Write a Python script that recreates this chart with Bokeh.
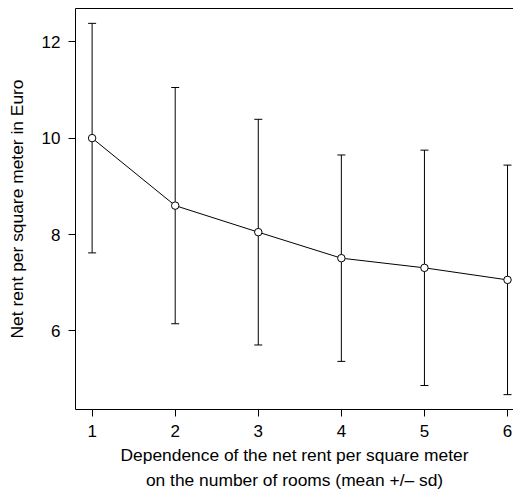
from bokeh.plotting import figure
from bokeh.models import (ColumnDataSource, Whisker, TeeHead, LinearAxis, FixedTicker,
                          Range1d, Title)
from bokeh.embed import file_html
from bokeh.resources import INLINE

rooms = [1, 2, 3, 4, 5, 6]
mean_rent = [10.00, 8.60, 8.05, 7.51, 7.31, 7.06]
sd_rent = [2.38, 2.45, 2.34, 2.14, 2.44, 2.38]
x_ticks = [1, 2, 3, 4, 5, 6]
y_ticks = [6, 8, 10, 12]
y_title = "Net rent per square meter in Euro"
x_title_1 = "Dependence of the net rent per square meter"
x_title_2 = "on the number of rooms (mean +/\u2013 sd)"

lower = [m - s for m, s in zip(mean_rent, sd_rent)]
upper = [m + s for m, s in zip(mean_rent, sd_rent)]

ylo, yhi = min(lower), max(upper)
pad = 0.04 * (yhi - ylo)
y0, y1 = ylo - pad, yhi + pad

FONT = "Liberation Sans"
FS = "17px"
FS_T = "17.4px"

p = figure(width=513, height=489, output_backend="svg", toolbar_location=None,
           x_range=Range1d(0.8, 6.072), y_range=Range1d(y0, y1),
           x_axis_type=None, y_axis_type=None)
p.min_border_left = 75
p.min_border_right = 0
p.min_border_top = 8
p.min_border_bottom = 79
p.outline_line_color = None
p.background_fill_color = "white"
p.border_fill_color = "white"
p.xgrid.visible = False
p.ygrid.visible = False

def style_axis(ax):
    ax.axis_line_color = "black"
    ax.axis_line_width = 1
    ax.major_tick_line_color = "black"
    ax.major_tick_out = 7
    ax.major_tick_in = 0
    ax.minor_tick_line_color = None
    ax.major_label_text_font = FONT
    ax.major_label_text_font_size = FS
    ax.major_label_text_color = "black"

xax = LinearAxis(ticker=FixedTicker(ticks=x_ticks))
style_axis(xax)
xax.major_label_standoff = 8
p.add_layout(xax, "below")

yax = LinearAxis(ticker=FixedTicker(ticks=y_ticks))
style_axis(yax)
yax.major_label_standoff = 8
yax.major_label_orientation = "horizontal"
yax.axis_label = y_title
yax.axis_label_text_font = FONT
yax.axis_label_text_font_size = FS_T
yax.axis_label_text_font_style = "normal"
yax.axis_label_text_color = "black"
yax.axis_label_standoff = 12
p.add_layout(yax, "left")

top = LinearAxis(ticker=FixedTicker(ticks=[]))
top.axis_line_color = "black"
top.major_tick_line_color = None
top.minor_tick_line_color = None
top.major_label_text_font_size = "0px"
top.major_tick_out = 0
top.major_label_standoff = 0
p.add_layout(top, "above")

src = ColumnDataSource(dict(x=rooms, m=mean_rent, lo=lower, hi=upper))

wh = Whisker(base="x", upper="hi", lower="lo", source=src, dimension="height",
             line_color="black", line_width=1,
             upper_head=TeeHead(size=8, line_color="black", line_width=1),
             lower_head=TeeHead(size=8, line_color="black", line_width=1))
wh.level = "underlay"
p.add_layout(wh)

p.line("x", "m", source=src, line_color="black", line_width=1)
p.scatter("x", "m", source=src, marker="circle", size=7.5,
          fill_color="white", line_color="black", line_width=1)

for txt, so in ((x_title_1, 6), (x_title_2, 0)):
    t = Title(text=txt, align="center", offset=5.5, standoff=so,
              text_font=FONT, text_font_size=FS_T, text_font_style="normal",
              text_color="black")
    p.add_layout(t, "below")

open("out.html", "w").write(file_html(p, INLINE))
